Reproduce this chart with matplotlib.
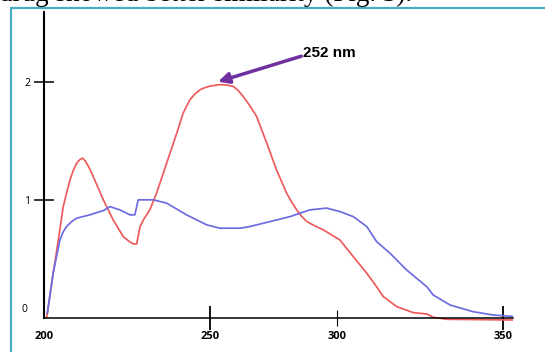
import matplotlib
matplotlib.use("Agg")
import matplotlib.pyplot as plt
from matplotlib.patches import Rectangle

# spectra (wavelength nm, absorbance)
wl_red = [200.9, 203.0, 204.7, 206.3, 207.4, 208.5, 209.6, 210.7, 211.7, 212.6,
          213.5, 214.8, 216.1, 219.4, 222.6, 225.9, 228.0, 229.2, 230.3, 231.4,
          232.5, 234.6, 236.8, 239.0, 241.2, 243.4, 245.5, 247.7, 249.3, 251.0,
          252.6, 254.2, 256.0, 257.5, 259.8, 261.9, 263.5, 265.1, 267.2, 269.5,
          272.8, 276.0, 279.3, 281.0, 282.6, 284.2, 285.9, 288.5, 291.3, 296.7,
          301.1, 305.5, 308.7, 310.9, 315.3, 320.7, 325.1, 327.2, 331.6, 353.3]
abs_red = [0.008, 0.379, 0.661, 0.943, 1.060, 1.169, 1.250, 1.311, 1.340, 1.353,
           1.330, 1.270, 1.197, 1.000, 0.831, 0.689, 0.645, 0.627, 0.627, 0.774,
           0.831, 0.915, 1.057, 1.226, 1.396, 1.565, 1.735, 1.847, 1.895, 1.932,
           1.950, 1.962, 1.970, 1.975, 1.972, 1.960, 1.925, 1.875, 1.800, 1.706,
           1.481, 1.254, 1.057, 0.980, 0.915, 0.860, 0.816, 0.780, 0.746, 0.661,
           0.519, 0.379, 0.265, 0.181, 0.096, 0.045, 0.034, 0.006, -0.011, -0.017]

wl_blue = [201.1, 203.0, 205.2, 206.3, 207.4, 209.0, 210.7, 215.0, 219.4, 221.6,
           224.8, 228.1, 229.7, 230.8, 235.7, 240.1, 246.6, 253.2, 257.5, 264.1,
           267.3, 273.9, 280.4, 286.9, 292.4, 296.7, 301.1, 305.5, 308.7, 313.1,
           318.5, 325.1, 327.2, 332.7, 340.3, 346.8, 353.3]
abs_blue = [0.040, 0.379, 0.661, 0.730, 0.774, 0.815, 0.845, 0.873, 0.909, 0.943,
            0.915, 0.873, 0.873, 1.000, 1.000, 0.972, 0.873, 0.788, 0.760, 0.760,
            0.774, 0.816, 0.858, 0.915, 0.930, 0.901, 0.858, 0.774, 0.647, 0.548,
            0.407, 0.265, 0.195, 0.110, 0.053, 0.025, 0.013]

# ticks were placed by hand in the source figure, not evenly
x_tick_pos = [200, 254.3, 295.8, 350]
x_tick_labels = ["200", "250", "300", "350"]
y_ticks = [1, 2]

peak_label = "252 nm"
peak_xy = (256.9, 2.0)
label_xy = (284.6, 2.246)
caption = "drug showed better similarity (Fig. 3)."

fig = plt.figure(figsize=(5.45, 3.52), dpi=100)
ax = fig.add_axes([0.0807, 0.0866, 0.8606, 0.8793])

ax.plot(wl_red, abs_red, color="#ee5b5b", lw=1.25, solid_joinstyle="round")
ax.plot(wl_blue, abs_blue, color="#6c6ce0", lw=1.25, solid_joinstyle="round")

ax.set_xlim(200, 353.3)
ax.set_ylim(-0.03, 2.59)
for s in ("top", "right"):
    ax.spines[s].set_visible(False)
ax.spines["bottom"].set_position(("data", 0))
ax.spines["left"].set_bounds(0, 2.59)
ax.spines["left"].set_linewidth(1.5)
ax.spines["bottom"].set_linewidth(1.1)

ax.set_xticks(x_tick_pos, x_tick_labels, fontweight="bold", fontsize=8,
              family="Open Sans")
ax.tick_params(axis="x", direction="inout", length=17, width=1.3, pad=1)
xt = ax.xaxis.get_major_ticks()
xt[0].tick1line.set_visible(False)
xt[2].tick1line.set_markersize(11)
xt[2].tick1line.set_markeredgewidth(0.8)

ax.set_yticks(y_ticks, [str(v) for v in y_ticks], fontsize=7.5, family="Open Sans")
ax.tick_params(axis="y", direction="inout", length=14, width=1.1, pad=3)
ax.text(-0.035, 0.068, "0", transform=ax.get_yaxis_transform(), ha="right",
        va="center", fontsize=7.5, family="Open Sans")

ax.annotate("", xy=peak_xy, xytext=(label_xy[0] - 0.5, label_xy[1] - 0.03),
            arrowprops=dict(arrowstyle="-|>", color="#7030a0", lw=2.5,
                            mutation_scale=16, shrinkA=0, shrinkB=0))
ax.text(label_xy[0], label_xy[1], peak_label, ha="left", va="center",
        fontsize=11, fontweight="bold", family="Liberation Sans")

# frame of the figure box in the page, and the cut-off caption above it
fig.add_artist(Rectangle((11 / 545, -0.1), 1.0, 1.0773, transform=fig.transFigure,
                         fill=False, edgecolor="#4bacc6", lw=1.6, clip_on=False))
fig.text(-0.002, 0.997, caption, ha="left", va="baseline", fontsize=19.5,
         family="Liberation Serif")

fig.savefig("out.png", dpi=100)
